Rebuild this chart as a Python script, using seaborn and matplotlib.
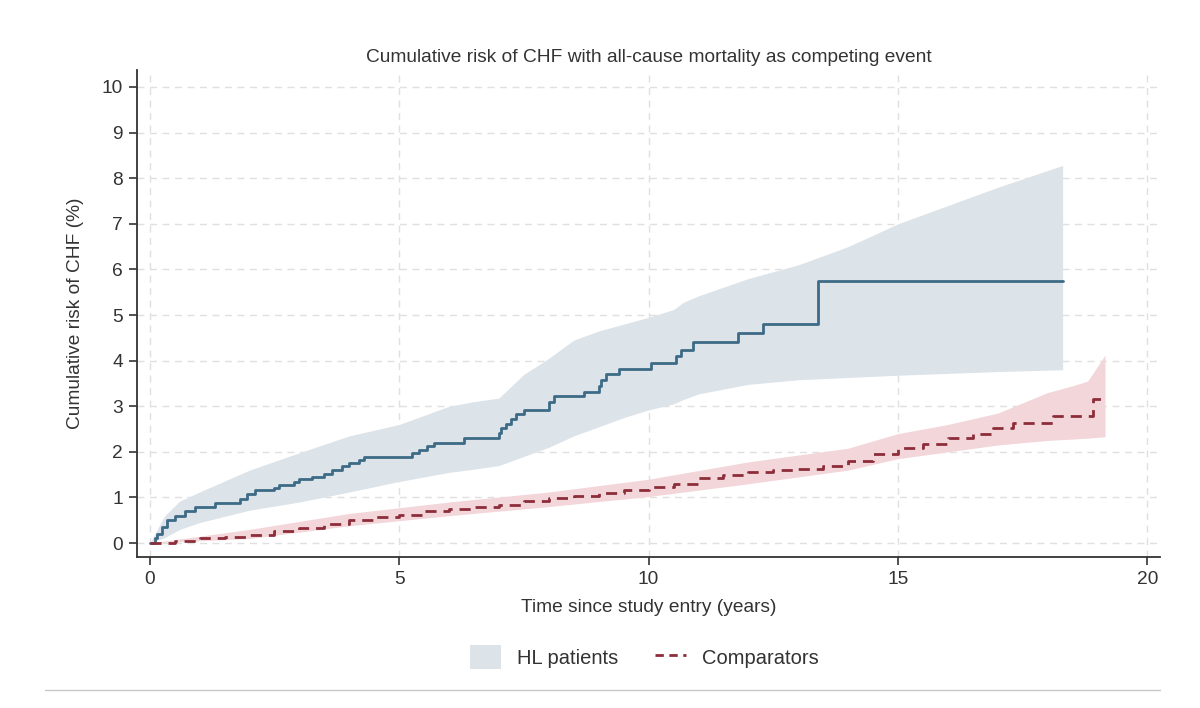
import numpy as np
import pandas as pd
import matplotlib
matplotlib.use("Agg")
import matplotlib.pyplot as plt
from matplotlib.lines import Line2D
from matplotlib.patches import Patch
import seaborn as sns

# ---------------- data ----------------
title = "Cumulative risk of CHF with all-cause mortality as competing event"
x_label = "Time since study entry (years)"
y_label = "Cumulative risk of CHF (%)"
series_names = ["HL patients", "Comparators"]
x_ticks = [0, 5, 10, 15, 20]
y_ticks = list(range(0, 11))

# HL patients: step estimate
hl_time = [0, 0.1, 0.15, 0.25, 0.35, 0.5, 0.7, 0.9, 1.3, 1.8, 1.95, 2.1, 2.5, 2.6,
           2.9, 3.0, 3.25, 3.5, 3.65, 3.85, 4.0, 4.2, 4.3, 5.25, 5.4, 5.55, 5.7,
           6.3, 7.0, 7.05, 7.15, 7.25, 7.35, 7.5, 8.0, 8.1, 8.7, 9.0, 9.05, 9.15,
           9.4, 10.05, 10.55, 10.65, 10.9, 11.8, 12.3, 13.4, 18.3]
hl_risk = [0, 0.1, 0.2, 0.35, 0.5, 0.6, 0.7, 0.8, 0.88, 0.97, 1.07, 1.16, 1.2, 1.27,
           1.33, 1.4, 1.45, 1.52, 1.6, 1.68, 1.76, 1.83, 1.89, 1.97, 2.05, 2.12, 2.19,
           2.3, 2.42, 2.52, 2.62, 2.72, 2.82, 2.92, 3.1, 3.22, 3.31, 3.45, 3.58, 3.7,
           3.81, 3.95, 4.1, 4.23, 4.41, 4.6, 4.8, 5.75, 5.75]
# HL patients: confidence band
hl_ci_time = [0, 0.3, 0.6, 1, 2, 3, 4, 5, 5.5, 6, 6.5, 7, 7.5, 8, 8.5, 9, 9.5, 10,
              10.5, 10.7, 11, 12, 13, 14, 15, 16, 17, 18.3]
hl_ci_upper = [0, 0.6, 0.92, 1.12, 1.6, 1.98, 2.35, 2.6, 2.8, 3.0, 3.1, 3.18, 3.7,
               4.05, 4.45, 4.65, 4.8, 4.95, 5.12, 5.28, 5.42, 5.8, 6.1, 6.5, 7.0,
               7.4, 7.8, 8.28]
hl_ci_lower = [0, 0.12, 0.3, 0.45, 0.72, 0.9, 1.12, 1.35, 1.45, 1.55, 1.62, 1.7, 1.9,
               2.1, 2.35, 2.55, 2.75, 2.92, 3.05, 3.15, 3.27, 3.48, 3.58, 3.63, 3.68,
               3.72, 3.76, 3.8]

# Comparators: step estimate
cmp_time = [0, 0.5, 1, 1.5, 2, 2.5, 3, 3.5, 4, 4.5, 5, 5.5, 6, 6.5, 7, 7.5, 8, 8.5,
            9, 9.5, 10, 10.5, 11, 11.5, 12, 12.5, 13, 13.5, 14, 14.5, 15, 15.5, 16,
            16.5, 16.9, 17.3, 18.1, 18.9, 19.15]
cmp_risk = [0, 0.05, 0.1, 0.13, 0.18, 0.26, 0.34, 0.42, 0.5, 0.57, 0.62, 0.7, 0.75,
            0.79, 0.84, 0.92, 0.98, 1.04, 1.1, 1.16, 1.22, 1.3, 1.42, 1.5, 1.56, 1.6,
            1.63, 1.7, 1.8, 1.95, 2.08, 2.18, 2.3, 2.4, 2.52, 2.63, 2.79, 3.16, 3.16]
# Comparators: confidence band
cmp_ci_time = [0, 2, 4, 6, 8, 10, 12, 14, 15, 16, 17, 18, 18.5, 18.8, 19.15]
cmp_ci_lower = [0, 0.1, 0.38, 0.6, 0.8, 1.02, 1.3, 1.6, 1.85, 2.0, 2.15, 2.25, 2.28,
                2.3, 2.33]
cmp_ci_upper = [0, 0.3, 0.65, 0.9, 1.12, 1.4, 1.78, 2.08, 2.4, 2.6, 2.85, 3.3, 3.45,
                3.55, 4.12]

# ---------------- style ----------------
sns.set_theme(style="white")
plt.rcParams["font.family"] = ["Liberation Sans", "DejaVu Sans"]

blue_line = "#3d6a86"
blue_band = "#dce3e9"
red_line = "#8c2d3a"
red_band = "#f3d6da"
text_col = "#333333"
fs = 13.8

fig = plt.figure(figsize=(12, 7.08), dpi=100)
ax = fig.add_axes([0.114, 0.213, 0.853, 0.688])

hl = pd.DataFrame({"time": hl_time, "risk": hl_risk})
cm = pd.DataFrame({"time": cmp_time, "risk": cmp_risk})

ax.fill_between(hl_ci_time, hl_ci_lower, hl_ci_upper, color=blue_band, lw=0, zorder=1)
ax.fill_between(cmp_ci_time, cmp_ci_lower, cmp_ci_upper, color=red_band, lw=0, zorder=1)

sns.lineplot(data=hl, x="time", y="risk", ax=ax, color=blue_line, lw=2,
             drawstyle="steps-post", estimator=None, zorder=3)
sns.lineplot(data=cm, x="time", y="risk", ax=ax, color=red_line, lw=2,
             drawstyle="steps-post", estimator=None, zorder=3,
             linestyle=(0, (4, 2.5)))

ax.set_xlim(-0.26, 20.26)
ax.set_ylim(-0.31, 10.37)
ax.set_xticks(x_ticks)
ax.set_yticks(y_ticks)
ax.grid(True, color="#e0e0e0", linestyle=(0, (5, 4)), lw=1)
ax.set_axisbelow(True)
for s in ["top", "right"]:
    ax.spines[s].set_visible(False)
for s in ["left", "bottom"]:
    ax.spines[s].set_color(text_col)
    ax.spines[s].set_linewidth(1.3)
ax.tick_params(axis="both", direction="out", length=6, width=1.2, color=text_col,
               labelsize=fs, labelcolor=text_col, left=True, bottom=True, pad=4)
ax.set_xlabel(x_label, fontsize=fs, color=text_col, labelpad=8)
ax.set_ylabel(y_label, fontsize=fs, color=text_col, labelpad=13)
ax.set_title(title, fontsize=fs, color=text_col, pad=6)

handles = [Patch(facecolor=blue_band, edgecolor="none"),
           Line2D([0], [0], color=red_line, lw=2, linestyle=(0, (3, 2)))]
fig.legend(handles, series_names, loc="center", bbox_to_anchor=(0.537, 0.072),
           ncol=2, frameon=False, fontsize=14.5, handlelength=1.55, handleheight=1.4,
           columnspacing=1.8, handletextpad=0.8, labelcolor=text_col)

fig.add_artist(Line2D([45 / 1200, 1160 / 1200], [1 - 690 / 708, 1 - 690 / 708],
                      transform=fig.transFigure, color="#c8c8c8", lw=1))

fig.savefig("out.png", dpi=100, facecolor="white")
